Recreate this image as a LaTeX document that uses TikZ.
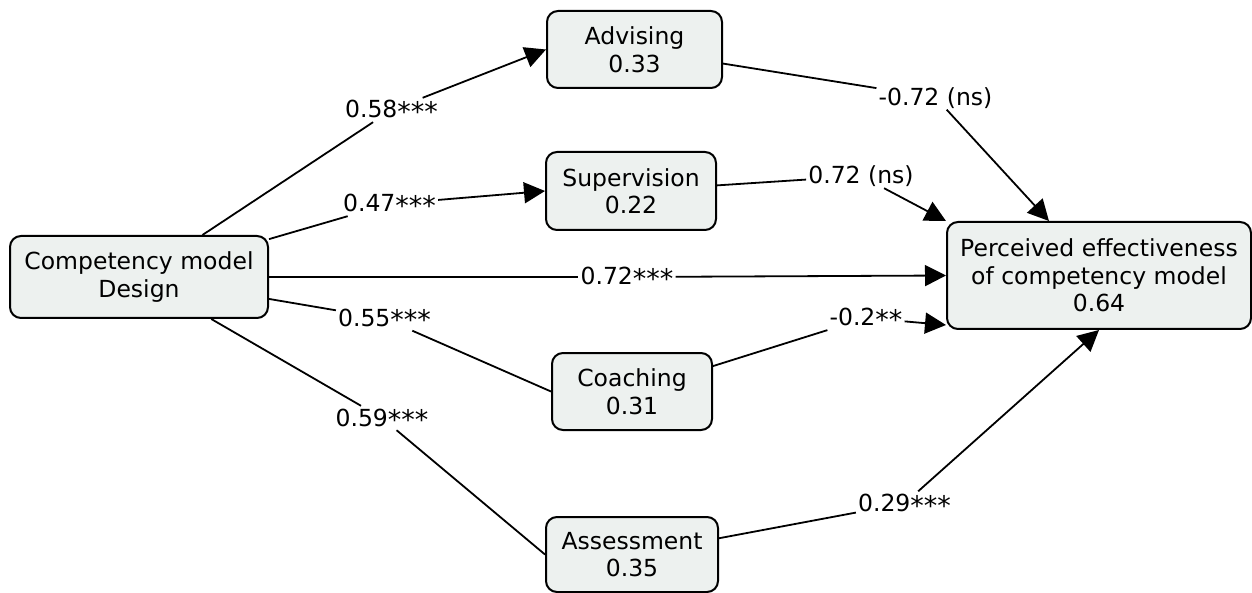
\documentclass[tikz,border=0pt]{standalone}
\usepackage{fontspec}
\setmainfont{DejaVu Sans}
\usetikzlibrary{arrows.meta}
\definecolor{boxfill}{RGB}{237,241,239}
\newcommand\sigstars[1]{\raisebox{-3.5pt}{\fontsize{27}{27}\selectfont #1}}
\begin{document}
\begin{tikzpicture}[x=1pt,y=-1pt,
  concept/.style={draw=black, line width=2pt, fill=boxfill, rounded corners=11pt, align=center, inner sep=0pt, font=\fontsize{23.5}{27.5}\selectfont},
  link/.style={fill=white, inner xsep=2pt, inner ysep=3pt, text height=17pt, text depth=1pt, font=\fontsize{23.5}{27.5}\selectfont},
  conn/.style={line width=1.8pt, draw=black},
  arr/.style={conn, -{Triangle[length=21pt,width=21pt]}}]
\useasboundingbox (0,0) rectangle (1252,593);
% concepts
\node[concept, minimum width=258pt, minimum height=82pt] (design) at (139,277) {Competency model\\Design};
\node[concept, minimum width=175pt, minimum height=77pt] (advising) at (634.5,49.5) {Advising\\0.33};
\node[concept, minimum width=170pt, minimum height=78pt] (supervision) at (631,191) {Supervision\\0.22};
\node[concept, minimum width=160pt, minimum height=77pt] (coaching) at (632,391.5) {Coaching\\0.31};
\node[concept, minimum width=172pt, minimum height=75pt] (assessment) at (632,554.5) {Assessment\\0.35};
\node[concept, minimum width=304pt, minimum height=107pt] (perceived) at (1099,275.5) {Perceived effectiveness\\of competency model\\0.64};
% link labels
\node[link] (l58) at (391.5,110) {0.58\sigstars{***}};
\node[link] (l47) at (389.5,204) {0.47\sigstars{***}};
\node[link] (l72) at (627,277) {0.72\sigstars{***}};
\node[link] (l55) at (384.5,318.5) {0.55\sigstars{***}};
\node[link] (l59) at (382,418) {0.59\sigstars{***}};
\node[link] (lm72) at (935.5,97.5) {-0.72 (ns)};
\node[link] (lns72) at (861,176) {0.72 (ns)};
\node[link] (l02) at (866,318) {-0.2\sigstars{**}};
\node[link] (l29) at (904.5,503.5) {0.29\sigstars{***}};
% connectors
\draw[conn] (design) -- (l58);
\draw[arr] (l58) -- (advising.west);
\draw[conn] (design) -- (l47);
\draw[arr] (l47) -- (supervision.west);
\draw[conn] (design) -- (l72);
\draw[arr] (l72) -- (perceived.west);
\draw[conn] (design) -- (l55);
\draw[conn] (l55) -- (coaching.west);
\draw[conn] (design) -- (l59);
\draw[conn] (l59) -- (assessment.west);
\draw[conn] (advising) -- (lm72);
\draw[arr] (lm72) -- (perceived);
\draw[conn] (supervision) -- (lns72);
\draw[arr] (lns72) -- (perceived.north west);
\draw[conn] (coaching) -- (l02);
\draw[arr] (l02) -- ([yshift=5pt]perceived.south west);
\draw[conn] (assessment) -- (l29);
\draw[arr] (l29) -- (perceived.south);
\end{tikzpicture}
\end{document}
